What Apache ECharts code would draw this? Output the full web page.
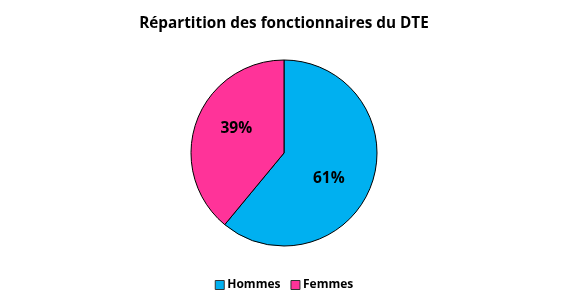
<!DOCTYPE html>
<html><head><meta charset="utf-8">
<script src="https://cdn.jsdelivr.net/npm/echarts@6/dist/echarts.min.js"></script>
<style>html,body{margin:0;padding:0;background:#fff}#c{width:568px;height:304px}</style>
</head><body><div id="c"></div>
<script>
const categories = ['Hommes', 'Femmes'];
const values = [61, 39];
const colors = ['#00B0F0', '#FF3399'];
const titleText = 'Répartition des fonctionnaires du DTE';
const labelOffsets = [[-7, 7], [4, -6]];

const chart = echarts.init(document.getElementById('c'), null, {renderer: 'canvas'});
const data = categories.map((n, i) => ({name: n, value: values[i], itemStyle: {color: colors[i]}}));
chart.setOption({
  animation: false,
  title: {text: titleText, left: 'center', top: 11,
    textStyle: {fontFamily: 'Open Sans', fontWeight: 'bold', fontSize: 15.3, color: '#000'}},
  legend: {bottom: 8, left: 'center', itemWidth: 9, itemHeight: 9, itemGap: 10,
    icon: 'rect', data: categories,
    itemStyle: {borderColor: '#333', borderWidth: 1},
    textStyle: {fontFamily: 'Open Sans', fontWeight: 'bold', fontSize: 12, color: '#000', padding: [0,0,0,-2]}},
  series: [{
    type: 'pie', radius: 93, center: [284, 153], startAngle: 90, clockwise: true,
    data: data,
    itemStyle: {borderColor: '#000', borderWidth: 1},
    label: {show: false},
    emphasis: {disabled: true}
  }, {
    type: 'pie', radius: 104, center: [284, 153], startAngle: 90, clockwise: true,
    data: data.map((d, i) => ({name: d.name, value: d.value, itemStyle: {color: 'transparent'},
      label: {offset: labelOffsets[i]}})),
    itemStyle: {borderWidth: 0},
    label: {show: true, position: 'inside', formatter: '{c}%',
      fontFamily: 'Open Sans', fontWeight: 'bold', fontSize: 15.5, color: '#000'},
    labelLine: {show: false},
    silent: true, legendHoverLink: false,
    emphasis: {disabled: true}
  }]
});
</script></body></html>
